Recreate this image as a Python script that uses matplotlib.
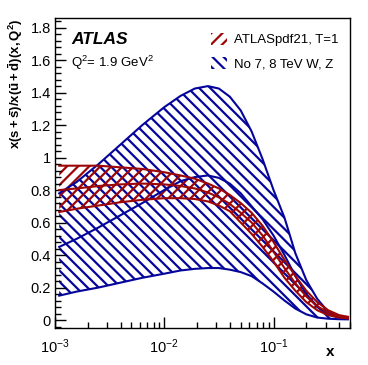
# ATLAS strange-to-light sea ratio, two PDF fits
import numpy as np
import matplotlib
matplotlib.use("Agg")
import matplotlib.pyplot as plt
from matplotlib.patches import Patch
from matplotlib.ticker import MultipleLocator, LogLocator

plt.rcParams['font.family'] = ['Liberation Sans', 'DejaVu Sans']
plt.rcParams['mathtext.fontset'] = 'custom'
plt.rcParams['mathtext.rm'] = 'Liberation Sans'
plt.rcParams['mathtext.it'] = 'Liberation Sans:italic'
plt.rcParams['mathtext.bf'] = 'Liberation Sans:bold'
plt.rcParams['hatch.linewidth'] = 1.6

# x grid given as log10(x)
log_x = [-2.96, -2.8, -2.6, -2.4, -2.2, -2.0, -1.85, -1.72, -1.6, -1.5, -1.4,
         -1.3, -1.2, -1.1, -1.0, -0.9, -0.8, -0.7, -0.6, -0.5, -0.4, -0.32]

# No 7, 8 TeV W, Z fit (blue)
blue_up = [0.78, 0.85, 0.96, 1.08, 1.20, 1.31, 1.38, 1.425, 1.44, 1.425, 1.375,
           1.29, 1.16, 0.99, 0.80, 0.63, 0.41, 0.245, 0.13, 0.05, 0.02, 0.01]
blue_mid = [0.45, 0.50, 0.57, 0.645, 0.72, 0.80, 0.855, 0.88, 0.89, 0.875, 0.84,
            0.78, 0.70, 0.62, 0.52, 0.40, 0.27, 0.16, 0.08, 0.035, 0.015, 0.01]
blue_lo = [0.15, 0.175, 0.20, 0.23, 0.26, 0.285, 0.305, 0.315, 0.32, 0.32, 0.31,
           0.295, 0.27, 0.225, 0.175, 0.12, 0.07, 0.035, 0.015, 0.008, 0.005, 0.004]

# ATLASpdf21, T=1 (red)
red_up = [0.95, 0.95, 0.95, 0.94, 0.93, 0.91, 0.89, 0.87, 0.84, 0.81, 0.77,
          0.72, 0.66, 0.58, 0.48, 0.37, 0.27, 0.18, 0.11, 0.06, 0.03, 0.02]
red_mid = [0.80, 0.81, 0.825, 0.835, 0.84, 0.835, 0.825, 0.81, 0.785, 0.755, 0.715,
           0.66, 0.60, 0.52, 0.42, 0.32, 0.225, 0.145, 0.085, 0.045, 0.022, 0.015]
red_lo = [0.665, 0.685, 0.705, 0.725, 0.74, 0.75, 0.75, 0.745, 0.73, 0.705, 0.67,
          0.60, 0.53, 0.45, 0.36, 0.26, 0.18, 0.11, 0.06, 0.03, 0.015, 0.01]

x = 10.0 ** np.array(log_x)

red = '#9c0606'
blue = '#05059c'

fig = plt.figure(figsize=(3.68, 3.65), dpi=100)
ax = fig.add_axes([0.149, 0.101, 0.802, 0.850])

ax.fill_between(x, blue_lo, blue_up, facecolor='none', edgecolor=blue,
                hatch='\\\\\\', linewidth=0)
for y in (blue_up, blue_mid, blue_lo):
    ax.plot(x, y, color=blue, lw=1.5)

ax.fill_between(x, red_lo, red_up, facecolor='none', edgecolor=red,
                hatch='///', linewidth=0)
for y in (red_up, red_mid, red_lo):
    ax.plot(x, y, color=red, lw=1.5)

ax.set_xscale('log')
ax.set_xlim(1e-3, 0.5)
ax.set_ylim(-0.05, 1.86)
ax.yaxis.set_minor_locator(MultipleLocator(0.04))
ax.xaxis.set_minor_locator(LogLocator(base=10, subs=np.arange(2, 10)))
ax.set_yticks([0, 0.2, 0.4, 0.6, 0.8, 1, 1.2, 1.4, 1.6, 1.8])
ax.set_yticklabels(['0', '0.2', '0.4', '0.6', '0.8', '1', '1.2', '1.4', '1.6', '1.8'])
ax.tick_params(which='both', direction='in', top=False, right=False,
               labelsize=10.5, width=1)
ax.tick_params(which='major', length=8, pad=3)
ax.tick_params(which='minor', length=4)
ax.tick_params(axis='x', which='major', pad=7)
for s in ax.spines.values():
    s.set_linewidth(1)

ax.set_ylabel(r'$\mathbf{x(s+\bar{s})/x(\bar{u}+\bar{d})(x,Q^{2})}$',
              fontsize=9.5, loc='top', labelpad=4)
fig.text(330 / 368, 1 - 352 / 365, 'x', fontsize=11, fontweight='bold',
         ha='center', va='center')

ax.text(0.055, 0.93, 'ATLAS', transform=ax.transAxes, fontsize=12.5,
        fontweight='bold', fontstyle='italic', va='center')
ax.text(0.055, 0.855, r'Q$^{2}$= 1.9 GeV$^{2}$', transform=ax.transAxes,
        fontsize=9.5, va='center')

handles = [Patch(facecolor='none', edgecolor=red, hatch='///', linewidth=0),
           Patch(facecolor='none', edgecolor=blue, hatch='\\\\\\', linewidth=0)]
ax.legend(handles, ['ATLASpdf21, T=1', 'No 7, 8 TeV W, Z'], loc='upper right',
          bbox_to_anchor=(1.0, 0.99), frameon=False, fontsize=9.5,
          handlelength=1.2, handleheight=1.0, handletextpad=0.5,
          labelspacing=0.8)

fig.savefig('out.png', dpi=100)
